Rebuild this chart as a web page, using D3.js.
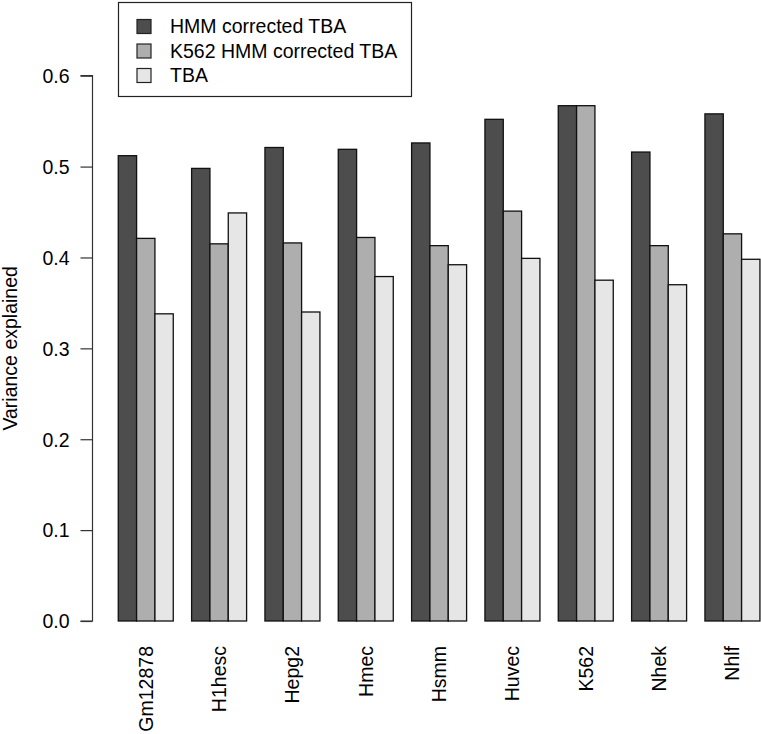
<!DOCTYPE html>
<html>
<head>
<meta charset="utf-8">
<script src="https://cdn.jsdelivr.net/npm/d3@7"></script>
<style>
  body { margin: 0; background: #fff; }
  text { font-family: "Liberation Sans", Arial, Helvetica, sans-serif; fill: #000; }
</style>
</head>
<body>
<div id="chart"></div>
<script>
// data
var cells = ["Gm12878", "H1hesc", "Hepg2", "Hmec", "Hsmm", "Huvec", "K562", "Nhek", "Nhlf"];
var series = ["HMM corrected TBA", "K562 HMM corrected TBA", "TBA"];
var hmmCorrected = [0.512, 0.498, 0.521, 0.519, 0.526, 0.552, 0.567, 0.516, 0.558];
var k562Corrected = [0.421, 0.415, 0.416, 0.422, 0.413, 0.451, 0.567, 0.413, 0.426];
var tba = [0.338, 0.449, 0.340, 0.379, 0.392, 0.399, 0.375, 0.370, 0.398];
var yTicks = [0, 0.1, 0.2, 0.3, 0.4, 0.5, 0.6];
var colors = ["#4D4D4D", "#AEAEAE", "#E6E6E6"];

var width = 761, height = 734;
var fs = "19.5px";

var svg = d3.select("#chart").append("svg")
  .attr("width", width).attr("height", height);

var y = d3.scaleLinear().domain([0, 0.6]).range([621, 75.7]);

var x0 = d3.scaleBand().domain(cells)
  .range([109.1, 769.1])
  .paddingInner(0.25)
  .paddingOuter(0.125);

var x1 = d3.scaleBand().domain(series)
  .range([0, x0.bandwidth()])
  .padding(0);

var table = cells.map(function(c, i) {
  return { cell: c, values: [hmmCorrected[i], k562Corrected[i], tba[i]] };
});

// bars
var groups = svg.append("g").selectAll("g")
  .data(table)
  .enter().append("g")
  .attr("transform", function(d) { return "translate(" + x0(d.cell) + ",0)"; });

groups.selectAll("rect")
  .data(function(d) { return d.values.map(function(v, j) { return { s: series[j], v: v, j: j }; }); })
  .enter().append("rect")
  .attr("x", function(d) { return x1(d.s); })
  .attr("y", function(d) { return y(d.v); })
  .attr("width", x1.bandwidth())
  .attr("height", function(d) { return y(0) - y(d.v); })
  .attr("fill", function(d) { return colors[d.j]; })
  .attr("stroke", "#111")
  .attr("stroke-width", 1.3);

// y axis, R style
var yAxis = d3.axisLeft(y).tickValues(yTicks)
  .tickFormat(d3.format(".1f"))
  .tickSize(12).tickPadding(11);

var ya = svg.append("g")
  .attr("transform", "translate(92.5,0)")
  .call(yAxis);
ya.select(".domain").attr("stroke", "#333").attr("stroke-width", 1.2)
  .attr("d", "M-12," + y(0.6) + "H0V" + y(0) + "H-12");
ya.selectAll(".tick line").attr("stroke", "#333").attr("stroke-width", 1.2);
ya.selectAll(".tick text")
  .style("font-size", fs)
  .style("font-family", "'Liberation Sans', Arial, sans-serif")
  .attr("fill", "#000")
  .attr("dy", "0.35em");

svg.append("text")
  .attr("transform", "translate(17," + ((y(0) + y(0.6)) / 2) + ") rotate(-90)")
  .attr("text-anchor", "middle")
  .style("font-size", fs)
  .text("Variance explained");

// x labels, vertical
svg.append("g").selectAll("text")
  .data(cells)
  .enter().append("text")
  .attr("transform", function(d) {
    return "translate(" + (x0(d) + x0.bandwidth() / 2) + ",646) rotate(-90)";
  })
  .attr("text-anchor", "end")
  .attr("dy", "0.35em")
  .style("font-size", fs)
  .text(function(d) { return d; });

// legend
var legend = svg.append("g");
legend.append("rect")
  .attr("x", 118.5).attr("y", 2.5)
  .attr("width", 293).attr("height", 94)
  .attr("fill", "#fff")
  .attr("stroke", "#222").attr("stroke-width", 1.2);

var items = legend.selectAll("g.item")
  .data(series)
  .enter().append("g")
  .attr("class", "item")
  .attr("transform", function(d, i) { return "translate(0," + (26.5 + i * 24.5) + ")"; });

items.append("rect")
  .attr("x", 137).attr("y", -7)
  .attr("width", 14).attr("height", 14)
  .attr("fill", function(d, i) { return colors[i]; })
  .attr("stroke", "#222").attr("stroke-width", 1.2);

items.append("text")
  .attr("x", 170).attr("dy", "0.35em")
  .style("font-size", fs)
  .text(function(d) { return d; });
</script>
</body>
</html>
